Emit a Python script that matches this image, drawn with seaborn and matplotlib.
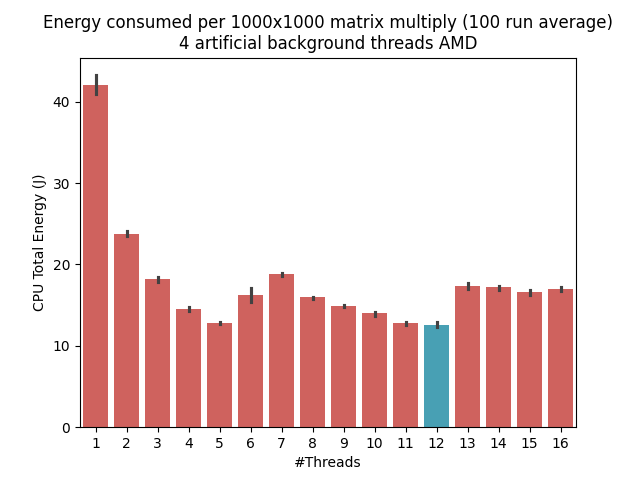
import matplotlib
matplotlib.use("Agg")
import matplotlib.pyplot as plt
import seaborn as sns
import pandas as pd

threads = list(range(1, 17))
energy_mean = [42.0, 23.74, 18.2, 14.54, 12.82, 16.26, 18.83, 16.0,
               14.9, 14.05, 12.82, 12.58, 17.36, 17.24, 16.63, 17.0]
energy_low = [40.95, 23.45, 17.85, 14.25, 12.65, 15.35, 18.6, 15.78,
              14.8, 13.7, 12.6, 12.35, 17.0, 16.9, 16.28, 16.78]
energy_high = [43.25, 24.05, 18.45, 14.75, 12.95, 17.1, 18.97, 16.05,
               15.07, 14.2, 12.97, 12.95, 17.7, 17.38, 16.9, 17.22]
highlight = 12

rows = []
for t, lo, m, hi in zip(threads, energy_low, energy_mean, energy_high):
    for v in (lo, m, hi):
        rows.append({"#Threads": t, "CPU Total Energy (J)": v})
df = pd.DataFrame(rows)

palette = {t: ("#48a0b4" if t == highlight else "#cf625e") for t in threads}

fig, ax = plt.subplots(figsize=(6.4, 4.8), dpi=100)
sns.barplot(data=df, x="#Threads", y="CPU Total Energy (J)", hue="#Threads",
            palette=palette, legend=False, estimator="median",
            errorbar=("pi", 100), saturation=1, ax=ax)
ax.set_title("Energy consumed per 1000x1000 matrix multiply (100 run average)\n4 artificial background threads AMD")
fig.savefig("out.png", dpi=100)
